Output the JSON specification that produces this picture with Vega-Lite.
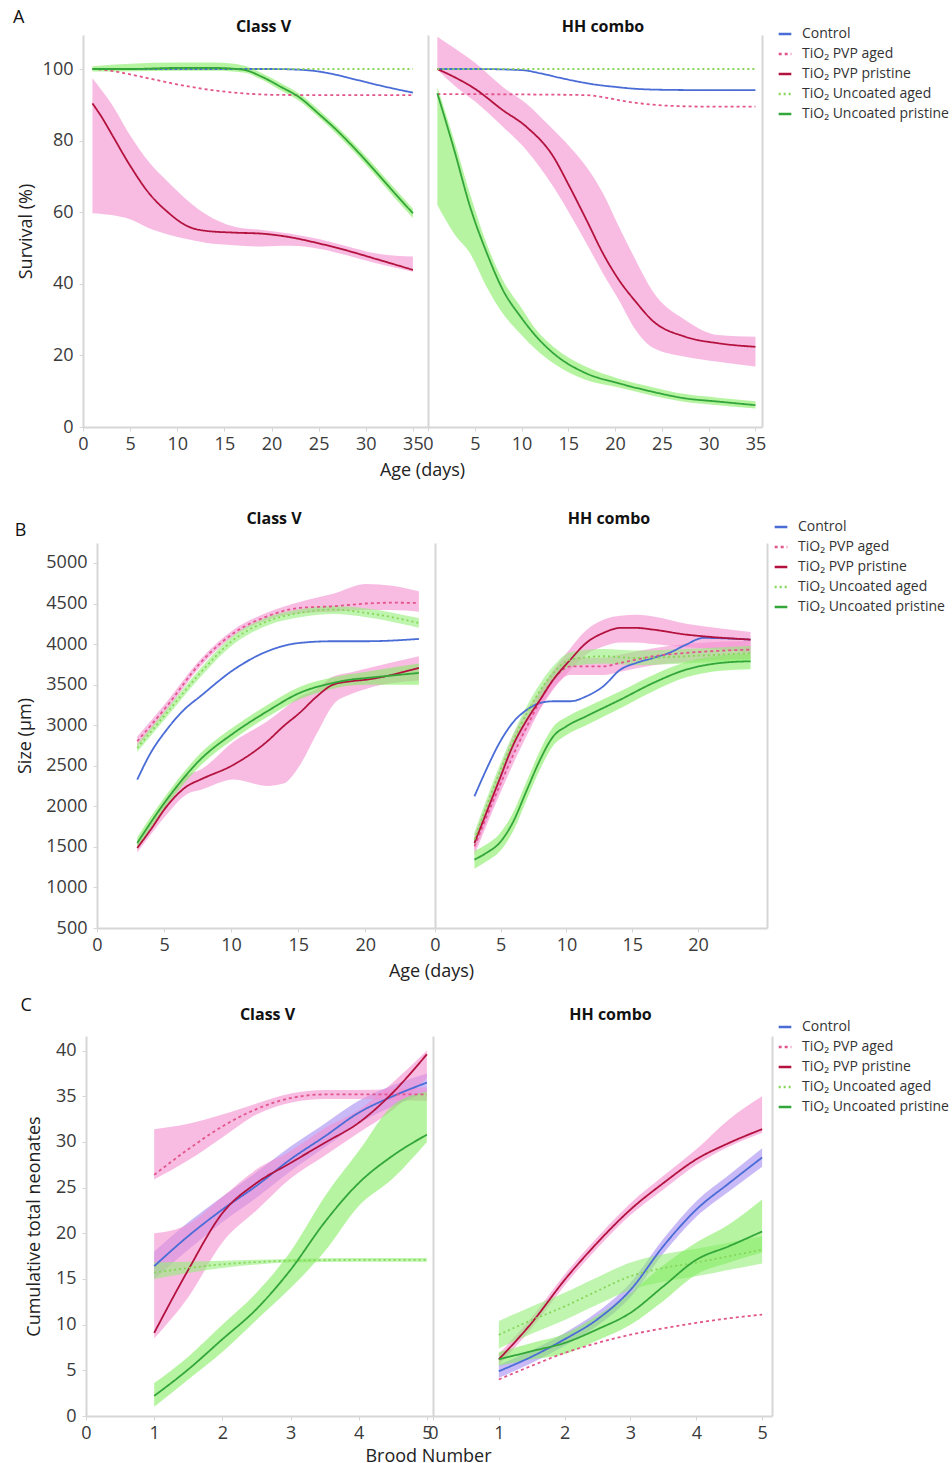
{
"$schema": "https://vega.github.io/schema/vega-lite/v6.json",
"background": "white",
"padding": {"left": 13, "top": 9, "right": 0, "bottom": 0},
"config": {
 "font": "Open Sans",
 "view": {"stroke": null},
 "axis": {"domainColor": "#d6d6d6", "domainWidth": 2, "tickColor": "#d6d6d6", "tickSize": 4, "labelFontSize": 18, "labelColor": "#3a3a3a", "titleFontSize": 18, "titleFontWeight": "normal", "titleColor": "#222222", "grid": false, "labelFlush": false, "labelOverlap": false},
 "axisX": {"labelPadding": 4, "titlePadding": 8},
 "axisY": {"labelPadding": 6},
 "title": {"fontSize": 16, "fontWeight": "bold", "color": "#111111", "frame": "group", "dx": 8},
 "legend": {"labelFontSize": 14, "labelColor": "#333333", "symbolType": "stroke", "symbolSize": 160, "symbolStrokeWidth": 2.6, "rowPadding": 5, "padding": 0, "labelLimit": 220, "labelOffset": 9}
},
"data": {"values": [
{"row":"A","panel":"Class V","series":"Control","x":1,"y":100},
{"row":"A","panel":"Class V","series":"Control","x":5,"y":100},
{"row":"A","panel":"Class V","series":"Control","x":10,"y":100},
{"row":"A","panel":"Class V","series":"Control","x":15,"y":100},
{"row":"A","panel":"Class V","series":"Control","x":20,"y":100},
{"row":"A","panel":"Class V","series":"Control","x":23,"y":99.8},
{"row":"A","panel":"Class V","series":"Control","x":25,"y":99.3},
{"row":"A","panel":"Class V","series":"Control","x":27,"y":98.3},
{"row":"A","panel":"Class V","series":"Control","x":29,"y":97},
{"row":"A","panel":"Class V","series":"Control","x":31,"y":95.7},
{"row":"A","panel":"Class V","series":"Control","x":33,"y":94.5},
{"row":"A","panel":"Class V","series":"Control","x":35,"y":93.4},
{"row":"A","panel":"Class V","series":"TiO₂ PVP aged","x":1,"y":100},
{"row":"A","panel":"Class V","series":"TiO₂ PVP aged","x":3,"y":99.5},
{"row":"A","panel":"Class V","series":"TiO₂ PVP aged","x":5,"y":98.5},
{"row":"A","panel":"Class V","series":"TiO₂ PVP aged","x":8,"y":96.8},
{"row":"A","panel":"Class V","series":"TiO₂ PVP aged","x":11,"y":95.2},
{"row":"A","panel":"Class V","series":"TiO₂ PVP aged","x":14,"y":94},
{"row":"A","panel":"Class V","series":"TiO₂ PVP aged","x":17,"y":93.2},
{"row":"A","panel":"Class V","series":"TiO₂ PVP aged","x":20,"y":92.8},
{"row":"A","panel":"Class V","series":"TiO₂ PVP aged","x":25,"y":92.7},
{"row":"A","panel":"Class V","series":"TiO₂ PVP aged","x":30,"y":92.7},
{"row":"A","panel":"Class V","series":"TiO₂ PVP aged","x":35,"y":92.7},
{"row":"A","panel":"Class V","series":"TiO₂ PVP pristine","x":1,"y":90.4,"lo":59.7,"hi":97.4},
{"row":"A","panel":"Class V","series":"TiO₂ PVP pristine","x":2,"y":86.5,"lo":59.5,"hi":94},
{"row":"A","panel":"Class V","series":"TiO₂ PVP pristine","x":3,"y":82,"lo":59.2,"hi":90.4},
{"row":"A","panel":"Class V","series":"TiO₂ PVP pristine","x":5,"y":73,"lo":58,"hi":81.5},
{"row":"A","panel":"Class V","series":"TiO₂ PVP pristine","x":7,"y":65.3,"lo":55.5,"hi":74},
{"row":"A","panel":"Class V","series":"TiO₂ PVP pristine","x":9,"y":60,"lo":53.8,"hi":68.5},
{"row":"A","panel":"Class V","series":"TiO₂ PVP pristine","x":11,"y":56.2,"lo":52.5,"hi":63.5},
{"row":"A","panel":"Class V","series":"TiO₂ PVP pristine","x":13,"y":54.8,"lo":51.5,"hi":59.5},
{"row":"A","panel":"Class V","series":"TiO₂ PVP pristine","x":16,"y":54.3,"lo":50.8,"hi":56},
{"row":"A","panel":"Class V","series":"TiO₂ PVP pristine","x":19,"y":54,"lo":50.4,"hi":55},
{"row":"A","panel":"Class V","series":"TiO₂ PVP pristine","x":22,"y":53,"lo":50.6,"hi":54},
{"row":"A","panel":"Class V","series":"TiO₂ PVP pristine","x":25,"y":51.3,"lo":49.8,"hi":52.5},
{"row":"A","panel":"Class V","series":"TiO₂ PVP pristine","x":28,"y":49.3,"lo":48,"hi":50.5},
{"row":"A","panel":"Class V","series":"TiO₂ PVP pristine","x":31,"y":47,"lo":45.8,"hi":48.5},
{"row":"A","panel":"Class V","series":"TiO₂ PVP pristine","x":35,"y":43.9,"lo":43.4,"hi":47.6},
{"row":"A","panel":"Class V","series":"TiO₂ Uncoated aged","x":1,"y":100},
{"row":"A","panel":"Class V","series":"TiO₂ Uncoated aged","x":10,"y":100},
{"row":"A","panel":"Class V","series":"TiO₂ Uncoated aged","x":20,"y":100},
{"row":"A","panel":"Class V","series":"TiO₂ Uncoated aged","x":30,"y":100},
{"row":"A","panel":"Class V","series":"TiO₂ Uncoated aged","x":35,"y":100},
{"row":"A","panel":"Class V","series":"TiO₂ Uncoated pristine","x":1,"y":100,"lo":99.3,"hi":100.8},
{"row":"A","panel":"Class V","series":"TiO₂ Uncoated pristine","x":5,"y":100,"lo":99.4,"hi":101.5},
{"row":"A","panel":"Class V","series":"TiO₂ Uncoated pristine","x":10,"y":100.3,"lo":99.5,"hi":101.8},
{"row":"A","panel":"Class V","series":"TiO₂ Uncoated pristine","x":14,"y":100.3,"lo":99.5,"hi":101.8},
{"row":"A","panel":"Class V","series":"TiO₂ Uncoated pristine","x":17,"y":99.8,"lo":99,"hi":101},
{"row":"A","panel":"Class V","series":"TiO₂ Uncoated pristine","x":19,"y":97.8,"lo":97,"hi":98.8},
{"row":"A","panel":"Class V","series":"TiO₂ Uncoated pristine","x":21,"y":95,"lo":94,"hi":96},
{"row":"A","panel":"Class V","series":"TiO₂ Uncoated pristine","x":23,"y":92,"lo":91,"hi":93},
{"row":"A","panel":"Class V","series":"TiO₂ Uncoated pristine","x":25,"y":87.5,"lo":86.5,"hi":88.6},
{"row":"A","panel":"Class V","series":"TiO₂ Uncoated pristine","x":27,"y":82.7,"lo":81.6,"hi":83.8},
{"row":"A","panel":"Class V","series":"TiO₂ Uncoated pristine","x":29,"y":77.3,"lo":76.2,"hi":78.5},
{"row":"A","panel":"Class V","series":"TiO₂ Uncoated pristine","x":31,"y":71.5,"lo":70.3,"hi":72.8},
{"row":"A","panel":"Class V","series":"TiO₂ Uncoated pristine","x":33,"y":65.5,"lo":64.2,"hi":66.8},
{"row":"A","panel":"Class V","series":"TiO₂ Uncoated pristine","x":35,"y":59.7,"lo":58.4,"hi":61},
{"row":"A","panel":"HH combo","series":"Control","x":1,"y":100},
{"row":"A","panel":"HH combo","series":"Control","x":5,"y":100},
{"row":"A","panel":"HH combo","series":"Control","x":10,"y":99.7},
{"row":"A","panel":"HH combo","series":"Control","x":12,"y":98.8},
{"row":"A","panel":"HH combo","series":"Control","x":14,"y":97.6},
{"row":"A","panel":"HH combo","series":"Control","x":16,"y":96.5},
{"row":"A","panel":"HH combo","series":"Control","x":18,"y":95.6},
{"row":"A","panel":"HH combo","series":"Control","x":20,"y":95},
{"row":"A","panel":"HH combo","series":"Control","x":22,"y":94.5},
{"row":"A","panel":"HH combo","series":"Control","x":25,"y":94.2},
{"row":"A","panel":"HH combo","series":"Control","x":30,"y":94.1},
{"row":"A","panel":"HH combo","series":"Control","x":35,"y":94.1},
{"row":"A","panel":"HH combo","series":"TiO₂ PVP aged","x":1,"y":93},
{"row":"A","panel":"HH combo","series":"TiO₂ PVP aged","x":10,"y":92.9},
{"row":"A","panel":"HH combo","series":"TiO₂ PVP aged","x":17,"y":92.7},
{"row":"A","panel":"HH combo","series":"TiO₂ PVP aged","x":19,"y":92},
{"row":"A","panel":"HH combo","series":"TiO₂ PVP aged","x":21,"y":91},
{"row":"A","panel":"HH combo","series":"TiO₂ PVP aged","x":23,"y":90.3},
{"row":"A","panel":"HH combo","series":"TiO₂ PVP aged","x":26,"y":89.7},
{"row":"A","panel":"HH combo","series":"TiO₂ PVP aged","x":30,"y":89.5},
{"row":"A","panel":"HH combo","series":"TiO₂ PVP aged","x":35,"y":89.5},
{"row":"A","panel":"HH combo","series":"TiO₂ PVP pristine","x":1,"y":100,"lo":99.7,"hi":109},
{"row":"A","panel":"HH combo","series":"TiO₂ PVP pristine","x":3,"y":97.5,"lo":95,"hi":105.5},
{"row":"A","panel":"HH combo","series":"TiO₂ PVP pristine","x":5,"y":94.5,"lo":91,"hi":101.8},
{"row":"A","panel":"HH combo","series":"TiO₂ PVP pristine","x":8,"y":88.5,"lo":83.9,"hi":95},
{"row":"A","panel":"HH combo","series":"TiO₂ PVP pristine","x":10.5,"y":83.9,"lo":77.4,"hi":90.4},
{"row":"A","panel":"HH combo","series":"TiO₂ PVP pristine","x":13.4,"y":75.5,"lo":67.1,"hi":83},
{"row":"A","panel":"HH combo","series":"TiO₂ PVP pristine","x":15,"y":67.8,"lo":60.2,"hi":78.7},
{"row":"A","panel":"HH combo","series":"TiO₂ PVP pristine","x":17,"y":57.5,"lo":51,"hi":72.4},
{"row":"A","panel":"HH combo","series":"TiO₂ PVP pristine","x":18.7,"y":48.5,"lo":42.9,"hi":65.3},
{"row":"A","panel":"HH combo","series":"TiO₂ PVP pristine","x":20.4,"y":41.1,"lo":35.5,"hi":56},
{"row":"A","panel":"HH combo","series":"TiO₂ PVP pristine","x":22.2,"y":35,"lo":27.1,"hi":46.6},
{"row":"A","panel":"HH combo","series":"TiO₂ PVP pristine","x":24,"y":29.7,"lo":22.2,"hi":38},
{"row":"A","panel":"HH combo","series":"TiO₂ PVP pristine","x":27.5,"y":25.2,"lo":19.6,"hi":29.9},
{"row":"A","panel":"HH combo","series":"TiO₂ PVP pristine","x":31,"y":23.4,"lo":18.2,"hi":25.7},
{"row":"A","panel":"HH combo","series":"TiO₂ PVP pristine","x":35,"y":22.4,"lo":16.9,"hi":25.2},
{"row":"A","panel":"HH combo","series":"TiO₂ Uncoated aged","x":1,"y":100},
{"row":"A","panel":"HH combo","series":"TiO₂ Uncoated aged","x":10,"y":100},
{"row":"A","panel":"HH combo","series":"TiO₂ Uncoated aged","x":20,"y":100},
{"row":"A","panel":"HH combo","series":"TiO₂ Uncoated aged","x":30,"y":100},
{"row":"A","panel":"HH combo","series":"TiO₂ Uncoated aged","x":35,"y":100},
{"row":"A","panel":"HH combo","series":"TiO₂ Uncoated pristine","x":1,"y":93.2,"lo":62,"hi":95},
{"row":"A","panel":"HH combo","series":"TiO₂ Uncoated pristine","x":2.8,"y":77.4,"lo":54,"hi":80},
{"row":"A","panel":"HH combo","series":"TiO₂ Uncoated pristine","x":4.5,"y":61.5,"lo":48.5,"hi":65},
{"row":"A","panel":"HH combo","series":"TiO₂ Uncoated pristine","x":6.3,"y":48.5,"lo":39,"hi":51},
{"row":"A","panel":"HH combo","series":"TiO₂ Uncoated pristine","x":8,"y":38.3,"lo":31.7,"hi":41},
{"row":"A","panel":"HH combo","series":"TiO₂ Uncoated pristine","x":9.9,"y":30.8,"lo":26,"hi":33.6},
{"row":"A","panel":"HH combo","series":"TiO₂ Uncoated pristine","x":11.6,"y":25.2,"lo":21.5,"hi":27},
{"row":"A","panel":"HH combo","series":"TiO₂ Uncoated pristine","x":13.4,"y":20.6,"lo":17.8,"hi":22.4},
{"row":"A","panel":"HH combo","series":"TiO₂ Uncoated pristine","x":16.9,"y":15,"lo":13.1,"hi":16.8},
{"row":"A","panel":"HH combo","series":"TiO₂ Uncoated pristine","x":20.4,"y":12.2,"lo":11,"hi":13.5},
{"row":"A","panel":"HH combo","series":"TiO₂ Uncoated pristine","x":23.9,"y":9.9,"lo":8.8,"hi":11.2},
{"row":"A","panel":"HH combo","series":"TiO₂ Uncoated pristine","x":27.5,"y":8,"lo":7,"hi":9.2},
{"row":"A","panel":"HH combo","series":"TiO₂ Uncoated pristine","x":31,"y":7.1,"lo":6.1,"hi":8.2},
{"row":"A","panel":"HH combo","series":"TiO₂ Uncoated pristine","x":35,"y":6.1,"lo":5.2,"hi":7.2},
{"row":"B","panel":"Class V","series":"Control","x":3,"y":2329},
{"row":"B","panel":"Class V","series":"Control","x":4,"y":2658},
{"row":"B","panel":"Class V","series":"Control","x":5.2,"y":2945},
{"row":"B","panel":"Class V","series":"Control","x":6.5,"y":3192},
{"row":"B","panel":"Class V","series":"Control","x":7.7,"y":3356},
{"row":"B","panel":"Class V","series":"Control","x":10.2,"y":3685},
{"row":"B","panel":"Class V","series":"Control","x":12.7,"y":3911},
{"row":"B","panel":"Class V","series":"Control","x":15.1,"y":4014},
{"row":"B","panel":"Class V","series":"Control","x":17.6,"y":4035},
{"row":"B","panel":"Class V","series":"Control","x":20.1,"y":4035},
{"row":"B","panel":"Class V","series":"Control","x":24,"y":4063},
{"row":"B","panel":"Class V","series":"TiO₂ PVP aged","x":3,"y":2802,"lo":2740,"hi":2860},
{"row":"B","panel":"Class V","series":"TiO₂ PVP aged","x":5.2,"y":3233,"lo":3180,"hi":3290},
{"row":"B","panel":"Class V","series":"TiO₂ PVP aged","x":7.7,"y":3767,"lo":3720,"hi":3810},
{"row":"B","panel":"Class V","series":"TiO₂ PVP aged","x":10.2,"y":4137,"lo":4100,"hi":4180},
{"row":"B","panel":"Class V","series":"TiO₂ PVP aged","x":12.7,"y":4343,"lo":4300,"hi":4390},
{"row":"B","panel":"Class V","series":"TiO₂ PVP aged","x":15.1,"y":4446,"lo":4380,"hi":4520},
{"row":"B","panel":"Class V","series":"TiO₂ PVP aged","x":17.6,"y":4466,"lo":4400,"hi":4620},
{"row":"B","panel":"Class V","series":"TiO₂ PVP aged","x":20.1,"y":4500,"lo":4420,"hi":4740},
{"row":"B","panel":"Class V","series":"TiO₂ PVP aged","x":22,"y":4510,"lo":4420,"hi":4720},
{"row":"B","panel":"Class V","series":"TiO₂ PVP aged","x":24,"y":4507,"lo":4400,"hi":4650},
{"row":"B","panel":"Class V","series":"TiO₂ PVP pristine","x":3,"y":1486,"lo":1430,"hi":1560},
{"row":"B","panel":"Class V","series":"TiO₂ PVP pristine","x":4,"y":1712,"lo":1650,"hi":1780},
{"row":"B","panel":"Class V","series":"TiO₂ PVP pristine","x":5.2,"y":2000,"lo":1900,"hi":2100},
{"row":"B","panel":"Class V","series":"TiO₂ PVP pristine","x":6.7,"y":2247,"lo":2150,"hi":2380},
{"row":"B","panel":"Class V","series":"TiO₂ PVP pristine","x":7.7,"y":2329,"lo":2200,"hi":2450},
{"row":"B","panel":"Class V","series":"TiO₂ PVP pristine","x":10.2,"y":2514,"lo":2330,"hi":2800},
{"row":"B","panel":"Class V","series":"TiO₂ PVP pristine","x":12.7,"y":2802,"lo":2250,"hi":3050},
{"row":"B","panel":"Class V","series":"TiO₂ PVP pristine","x":13.9,"y":2987,"lo":2280,"hi":3200},
{"row":"B","panel":"Class V","series":"TiO₂ PVP pristine","x":15.1,"y":3151,"lo":2500,"hi":3350},
{"row":"B","panel":"Class V","series":"TiO₂ PVP pristine","x":16.4,"y":3356,"lo":2900,"hi":3450},
{"row":"B","panel":"Class V","series":"TiO₂ PVP pristine","x":17.6,"y":3500,"lo":3250,"hi":3600},
{"row":"B","panel":"Class V","series":"TiO₂ PVP pristine","x":18.9,"y":3541,"lo":3380,"hi":3650},
{"row":"B","panel":"Class V","series":"TiO₂ PVP pristine","x":20.1,"y":3562,"lo":3450,"hi":3700},
{"row":"B","panel":"Class V","series":"TiO₂ PVP pristine","x":24,"y":3706,"lo":3550,"hi":3850},
{"row":"B","panel":"Class V","series":"TiO₂ Uncoated aged","x":3,"y":2719,"lo":2670,"hi":2770},
{"row":"B","panel":"Class V","series":"TiO₂ Uncoated aged","x":5.2,"y":3151,"lo":3100,"hi":3200},
{"row":"B","panel":"Class V","series":"TiO₂ Uncoated aged","x":7.7,"y":3644,"lo":3590,"hi":3700},
{"row":"B","panel":"Class V","series":"TiO₂ Uncoated aged","x":10.2,"y":4055,"lo":4000,"hi":4110},
{"row":"B","panel":"Class V","series":"TiO₂ Uncoated aged","x":12.7,"y":4281,"lo":4230,"hi":4330},
{"row":"B","panel":"Class V","series":"TiO₂ Uncoated aged","x":15.1,"y":4384,"lo":4330,"hi":4430},
{"row":"B","panel":"Class V","series":"TiO₂ Uncoated aged","x":17.6,"y":4425,"lo":4370,"hi":4470},
{"row":"B","panel":"Class V","series":"TiO₂ Uncoated aged","x":20.1,"y":4384,"lo":4330,"hi":4440},
{"row":"B","panel":"Class V","series":"TiO₂ Uncoated aged","x":24,"y":4261,"lo":4200,"hi":4320},
{"row":"B","panel":"Class V","series":"TiO₂ Uncoated pristine","x":3,"y":1548,"lo":1480,"hi":1620},
{"row":"B","panel":"Class V","series":"TiO₂ Uncoated pristine","x":5.2,"y":2082,"lo":2010,"hi":2150},
{"row":"B","panel":"Class V","series":"TiO₂ Uncoated pristine","x":7.7,"y":2576,"lo":2500,"hi":2650},
{"row":"B","panel":"Class V","series":"TiO₂ Uncoated pristine","x":10.2,"y":2904,"lo":2830,"hi":2980},
{"row":"B","panel":"Class V","series":"TiO₂ Uncoated pristine","x":12.7,"y":3172,"lo":3100,"hi":3250},
{"row":"B","panel":"Class V","series":"TiO₂ Uncoated pristine","x":15.1,"y":3397,"lo":3320,"hi":3470},
{"row":"B","panel":"Class V","series":"TiO₂ Uncoated pristine","x":17.6,"y":3521,"lo":3450,"hi":3590},
{"row":"B","panel":"Class V","series":"TiO₂ Uncoated pristine","x":18.9,"y":3562,"lo":3490,"hi":3630},
{"row":"B","panel":"Class V","series":"TiO₂ Uncoated pristine","x":20.1,"y":3582,"lo":3500,"hi":3660},
{"row":"B","panel":"Class V","series":"TiO₂ Uncoated pristine","x":24,"y":3644,"lo":3500,"hi":3760},
{"row":"B","panel":"HH combo","series":"Control","x":3,"y":2123},
{"row":"B","panel":"HH combo","series":"Control","x":3.9,"y":2452},
{"row":"B","panel":"HH combo","series":"Control","x":4.9,"y":2781},
{"row":"B","panel":"HH combo","series":"Control","x":5.9,"y":3028},
{"row":"B","panel":"HH combo","series":"Control","x":7,"y":3192},
{"row":"B","panel":"HH combo","series":"Control","x":8,"y":3274},
{"row":"B","panel":"HH combo","series":"Control","x":9,"y":3295},
{"row":"B","panel":"HH combo","series":"Control","x":10.3,"y":3295},
{"row":"B","panel":"HH combo","series":"Control","x":11.5,"y":3356},
{"row":"B","panel":"HH combo","series":"Control","x":12.8,"y":3480},
{"row":"B","panel":"HH combo","series":"Control","x":14.1,"y":3685},
{"row":"B","panel":"HH combo","series":"Control","x":15.3,"y":3767},
{"row":"B","panel":"HH combo","series":"Control","x":16.6,"y":3829},
{"row":"B","panel":"HH combo","series":"Control","x":17.8,"y":3891},
{"row":"B","panel":"HH combo","series":"Control","x":19.1,"y":3993},
{"row":"B","panel":"HH combo","series":"Control","x":20.4,"y":4076},
{"row":"B","panel":"HH combo","series":"Control","x":24,"y":4055},
{"row":"B","panel":"HH combo","series":"TiO₂ PVP aged","x":3,"y":1507,"lo":1400,"hi":1610},
{"row":"B","panel":"HH combo","series":"TiO₂ PVP aged","x":4.9,"y":2247,"lo":2140,"hi":2350},
{"row":"B","panel":"HH combo","series":"TiO₂ PVP aged","x":7,"y":2987,"lo":2880,"hi":3090},
{"row":"B","panel":"HH combo","series":"TiO₂ PVP aged","x":9,"y":3562,"lo":3460,"hi":3660},
{"row":"B","panel":"HH combo","series":"TiO₂ PVP aged","x":10.3,"y":3726,"lo":3620,"hi":3830},
{"row":"B","panel":"HH combo","series":"TiO₂ PVP aged","x":11.5,"y":3726,"lo":3620,"hi":3830},
{"row":"B","panel":"HH combo","series":"TiO₂ PVP aged","x":12.8,"y":3726,"lo":3620,"hi":3830},
{"row":"B","panel":"HH combo","series":"TiO₂ PVP aged","x":14.1,"y":3767,"lo":3660,"hi":3870},
{"row":"B","panel":"HH combo","series":"TiO₂ PVP aged","x":16.6,"y":3850,"lo":3740,"hi":3950},
{"row":"B","panel":"HH combo","series":"TiO₂ PVP aged","x":19.1,"y":3891,"lo":3780,"hi":4000},
{"row":"B","panel":"HH combo","series":"TiO₂ PVP aged","x":24,"y":3932,"lo":3820,"hi":4040},
{"row":"B","panel":"HH combo","series":"TiO₂ PVP pristine","x":3,"y":1548,"lo":1450,"hi":1650},
{"row":"B","panel":"HH combo","series":"TiO₂ PVP pristine","x":3.9,"y":1918,"lo":1800,"hi":2030},
{"row":"B","panel":"HH combo","series":"TiO₂ PVP pristine","x":4.9,"y":2329,"lo":2200,"hi":2450},
{"row":"B","panel":"HH combo","series":"TiO₂ PVP pristine","x":5.9,"y":2740,"lo":2620,"hi":2860},
{"row":"B","panel":"HH combo","series":"TiO₂ PVP pristine","x":7,"y":3069,"lo":2950,"hi":3190},
{"row":"B","panel":"HH combo","series":"TiO₂ PVP pristine","x":8,"y":3315,"lo":3200,"hi":3430},
{"row":"B","panel":"HH combo","series":"TiO₂ PVP pristine","x":9,"y":3562,"lo":3440,"hi":3680},
{"row":"B","panel":"HH combo","series":"TiO₂ PVP pristine","x":10.3,"y":3808,"lo":3680,"hi":3950},
{"row":"B","panel":"HH combo","series":"TiO₂ PVP pristine","x":11.5,"y":4014,"lo":3870,"hi":4170},
{"row":"B","panel":"HH combo","series":"TiO₂ PVP pristine","x":12.8,"y":4137,"lo":3970,"hi":4300},
{"row":"B","panel":"HH combo","series":"TiO₂ PVP pristine","x":14.1,"y":4199,"lo":4020,"hi":4350},
{"row":"B","panel":"HH combo","series":"TiO₂ PVP pristine","x":15.3,"y":4199,"lo":4020,"hi":4360},
{"row":"B","panel":"HH combo","series":"TiO₂ PVP pristine","x":16.6,"y":4178,"lo":4000,"hi":4340},
{"row":"B","panel":"HH combo","series":"TiO₂ PVP pristine","x":19.1,"y":4117,"lo":3960,"hi":4250},
{"row":"B","panel":"HH combo","series":"TiO₂ PVP pristine","x":20.4,"y":4096,"lo":3950,"hi":4220},
{"row":"B","panel":"HH combo","series":"TiO₂ PVP pristine","x":24,"y":4055,"lo":3900,"hi":4150},
{"row":"B","panel":"HH combo","series":"TiO₂ Uncoated aged","x":3,"y":1589,"lo":1500,"hi":1680},
{"row":"B","panel":"HH combo","series":"TiO₂ Uncoated aged","x":4.9,"y":2411,"lo":2320,"hi":2500},
{"row":"B","panel":"HH combo","series":"TiO₂ Uncoated aged","x":7,"y":3151,"lo":3060,"hi":3240},
{"row":"B","panel":"HH combo","series":"TiO₂ Uncoated aged","x":9,"y":3644,"lo":3550,"hi":3730},
{"row":"B","panel":"HH combo","series":"TiO₂ Uncoated aged","x":10.3,"y":3808,"lo":3720,"hi":3900},
{"row":"B","panel":"HH combo","series":"TiO₂ Uncoated aged","x":12.8,"y":3850,"lo":3760,"hi":3940},
{"row":"B","panel":"HH combo","series":"TiO₂ Uncoated aged","x":15.3,"y":3829,"lo":3740,"hi":3920},
{"row":"B","panel":"HH combo","series":"TiO₂ Uncoated aged","x":19.1,"y":3850,"lo":3760,"hi":3940},
{"row":"B","panel":"HH combo","series":"TiO₂ Uncoated aged","x":24,"y":3891,"lo":3800,"hi":3980},
{"row":"B","panel":"HH combo","series":"TiO₂ Uncoated pristine","x":3,"y":1343,"lo":1230,"hi":1450},
{"row":"B","panel":"HH combo","series":"TiO₂ Uncoated pristine","x":3.9,"y":1425,"lo":1320,"hi":1530},
{"row":"B","panel":"HH combo","series":"TiO₂ Uncoated pristine","x":4.9,"y":1548,"lo":1440,"hi":1660},
{"row":"B","panel":"HH combo","series":"TiO₂ Uncoated pristine","x":5.9,"y":1795,"lo":1680,"hi":1910},
{"row":"B","panel":"HH combo","series":"TiO₂ Uncoated pristine","x":7,"y":2206,"lo":2090,"hi":2320},
{"row":"B","panel":"HH combo","series":"TiO₂ Uncoated pristine","x":8,"y":2576,"lo":2460,"hi":2690},
{"row":"B","panel":"HH combo","series":"TiO₂ Uncoated pristine","x":9,"y":2863,"lo":2750,"hi":2980},
{"row":"B","panel":"HH combo","series":"TiO₂ Uncoated pristine","x":10,"y":2987,"lo":2880,"hi":3100},
{"row":"B","panel":"HH combo","series":"TiO₂ Uncoated pristine","x":11.5,"y":3110,"lo":3000,"hi":3220},
{"row":"B","panel":"HH combo","series":"TiO₂ Uncoated pristine","x":14.1,"y":3315,"lo":3210,"hi":3420},
{"row":"B","panel":"HH combo","series":"TiO₂ Uncoated pristine","x":16.6,"y":3521,"lo":3420,"hi":3620},
{"row":"B","panel":"HH combo","series":"TiO₂ Uncoated pristine","x":19.1,"y":3685,"lo":3590,"hi":3780},
{"row":"B","panel":"HH combo","series":"TiO₂ Uncoated pristine","x":21.7,"y":3767,"lo":3670,"hi":3860},
{"row":"B","panel":"HH combo","series":"TiO₂ Uncoated pristine","x":24,"y":3788,"lo":3690,"hi":3880},
{"row":"C","panel":"Class V","series":"Control","x":1,"y":16.4,"lo":15,"hi":18},
{"row":"C","panel":"Class V","series":"Control","x":1.5,"y":19.7,"lo":18.2,"hi":21.2},
{"row":"C","panel":"Class V","series":"Control","x":2,"y":22.6,"lo":21.2,"hi":24},
{"row":"C","panel":"Class V","series":"Control","x":2.5,"y":25.2,"lo":23.9,"hi":26.7},
{"row":"C","panel":"Class V","series":"Control","x":3,"y":28.1,"lo":26.8,"hi":29.5},
{"row":"C","panel":"Class V","series":"Control","x":3.5,"y":30.6,"lo":29.4,"hi":32},
{"row":"C","panel":"Class V","series":"Control","x":4,"y":33.2,"lo":32,"hi":34.5},
{"row":"C","panel":"Class V","series":"Control","x":4.5,"y":35,"lo":33.9,"hi":36.2},
{"row":"C","panel":"Class V","series":"Control","x":5,"y":36.5,"lo":35.5,"hi":37.5},
{"row":"C","panel":"Class V","series":"TiO₂ PVP aged","x":1,"y":26.4,"lo":25.9,"hi":31.4},
{"row":"C","panel":"Class V","series":"TiO₂ PVP aged","x":1.5,"y":29.2,"lo":28,"hi":32},
{"row":"C","panel":"Class V","series":"TiO₂ PVP aged","x":2,"y":31.7,"lo":30.5,"hi":33},
{"row":"C","panel":"Class V","series":"TiO₂ PVP aged","x":2.5,"y":33.6,"lo":33,"hi":34.2},
{"row":"C","panel":"Class V","series":"TiO₂ PVP aged","x":3,"y":34.8,"lo":34.3,"hi":35.3},
{"row":"C","panel":"Class V","series":"TiO₂ PVP aged","x":3.5,"y":35.2,"lo":34.7,"hi":35.7},
{"row":"C","panel":"Class V","series":"TiO₂ PVP aged","x":4,"y":35.2,"lo":34.7,"hi":35.7},
{"row":"C","panel":"Class V","series":"TiO₂ PVP aged","x":4.5,"y":35.2,"lo":34.6,"hi":35.8},
{"row":"C","panel":"Class V","series":"TiO₂ PVP aged","x":5,"y":35.2,"lo":34.5,"hi":36},
{"row":"C","panel":"Class V","series":"TiO₂ PVP pristine","x":1,"y":9.1,"lo":8.5,"hi":20},
{"row":"C","panel":"Class V","series":"TiO₂ PVP pristine","x":1.5,"y":16,"lo":13,"hi":21},
{"row":"C","panel":"Class V","series":"TiO₂ PVP pristine","x":2,"y":22.2,"lo":19,"hi":24},
{"row":"C","panel":"Class V","series":"TiO₂ PVP pristine","x":2.5,"y":25.5,"lo":22.5,"hi":27},
{"row":"C","panel":"Class V","series":"TiO₂ PVP pristine","x":3,"y":27.7,"lo":26,"hi":29},
{"row":"C","panel":"Class V","series":"TiO₂ PVP pristine","x":3.5,"y":29.9,"lo":28.5,"hi":31.5},
{"row":"C","panel":"Class V","series":"TiO₂ PVP pristine","x":4,"y":32.1,"lo":31,"hi":33.5},
{"row":"C","panel":"Class V","series":"TiO₂ PVP pristine","x":4.5,"y":35.4,"lo":33.5,"hi":36.5},
{"row":"C","panel":"Class V","series":"TiO₂ PVP pristine","x":5,"y":39.6,"lo":37,"hi":40},
{"row":"C","panel":"Class V","series":"TiO₂ Uncoated aged","x":1,"y":15.7,"lo":15,"hi":16.8},
{"row":"C","panel":"Class V","series":"TiO₂ Uncoated aged","x":2,"y":16.6,"lo":16.2,"hi":17},
{"row":"C","panel":"Class V","series":"TiO₂ Uncoated aged","x":3,"y":17,"lo":16.8,"hi":17.2},
{"row":"C","panel":"Class V","series":"TiO₂ Uncoated aged","x":4,"y":17.1,"lo":16.9,"hi":17.3},
{"row":"C","panel":"Class V","series":"TiO₂ Uncoated aged","x":5,"y":17.1,"lo":16.9,"hi":17.3},
{"row":"C","panel":"Class V","series":"TiO₂ Uncoated pristine","x":1,"y":2.2,"lo":1,"hi":3.6},
{"row":"C","panel":"Class V","series":"TiO₂ Uncoated pristine","x":1.5,"y":5.1,"lo":4,"hi":6.5},
{"row":"C","panel":"Class V","series":"TiO₂ Uncoated pristine","x":2,"y":8.4,"lo":7,"hi":10},
{"row":"C","panel":"Class V","series":"TiO₂ Uncoated pristine","x":2.5,"y":11.7,"lo":10.5,"hi":13.5},
{"row":"C","panel":"Class V","series":"TiO₂ Uncoated pristine","x":3,"y":16,"lo":14,"hi":18},
{"row":"C","panel":"Class V","series":"TiO₂ Uncoated pristine","x":3.5,"y":21.2,"lo":18,"hi":24},
{"row":"C","panel":"Class V","series":"TiO₂ Uncoated pristine","x":4,"y":25.5,"lo":23,"hi":29},
{"row":"C","panel":"Class V","series":"TiO₂ Uncoated pristine","x":4.5,"y":28.5,"lo":26,"hi":34},
{"row":"C","panel":"Class V","series":"TiO₂ Uncoated pristine","x":5,"y":30.8,"lo":30,"hi":35.5},
{"row":"C","panel":"HH combo","series":"Control","x":1,"y":4.9,"lo":4.2,"hi":5.6},
{"row":"C","panel":"HH combo","series":"Control","x":1.5,"y":6.5,"lo":5.8,"hi":7.2},
{"row":"C","panel":"HH combo","series":"Control","x":2,"y":8.4,"lo":7.7,"hi":9.1},
{"row":"C","panel":"HH combo","series":"Control","x":2.5,"y":10.6,"lo":9.9,"hi":11.4},
{"row":"C","panel":"HH combo","series":"Control","x":3,"y":13.8,"lo":13,"hi":14.6},
{"row":"C","panel":"HH combo","series":"Control","x":3.5,"y":18.6,"lo":17.8,"hi":19.4},
{"row":"C","panel":"HH combo","series":"Control","x":4,"y":22.6,"lo":21.8,"hi":23.5},
{"row":"C","panel":"HH combo","series":"Control","x":4.5,"y":25.5,"lo":24.6,"hi":26.4},
{"row":"C","panel":"HH combo","series":"Control","x":5,"y":28.3,"lo":27.3,"hi":29.3},
{"row":"C","panel":"HH combo","series":"TiO₂ PVP aged","x":1,"y":4},
{"row":"C","panel":"HH combo","series":"TiO₂ PVP aged","x":1.5,"y":5.5},
{"row":"C","panel":"HH combo","series":"TiO₂ PVP aged","x":2,"y":6.9},
{"row":"C","panel":"HH combo","series":"TiO₂ PVP aged","x":2.5,"y":8},
{"row":"C","panel":"HH combo","series":"TiO₂ PVP aged","x":3,"y":8.9},
{"row":"C","panel":"HH combo","series":"TiO₂ PVP aged","x":3.5,"y":9.6},
{"row":"C","panel":"HH combo","series":"TiO₂ PVP aged","x":4,"y":10.2},
{"row":"C","panel":"HH combo","series":"TiO₂ PVP aged","x":4.5,"y":10.7},
{"row":"C","panel":"HH combo","series":"TiO₂ PVP aged","x":5,"y":11.1},
{"row":"C","panel":"HH combo","series":"TiO₂ PVP pristine","x":1,"y":6.2,"lo":5.6,"hi":6.8},
{"row":"C","panel":"HH combo","series":"TiO₂ PVP pristine","x":1.5,"y":10.2,"lo":9.6,"hi":10.8},
{"row":"C","panel":"HH combo","series":"TiO₂ PVP pristine","x":2,"y":14.9,"lo":14.3,"hi":15.5},
{"row":"C","panel":"HH combo","series":"TiO₂ PVP pristine","x":2.5,"y":19,"lo":18.4,"hi":19.6},
{"row":"C","panel":"HH combo","series":"TiO₂ PVP pristine","x":3,"y":22.6,"lo":22,"hi":23.3},
{"row":"C","panel":"HH combo","series":"TiO₂ PVP pristine","x":3.5,"y":25.5,"lo":24.8,"hi":26.3},
{"row":"C","panel":"HH combo","series":"TiO₂ PVP pristine","x":4,"y":28.1,"lo":27.5,"hi":29.2},
{"row":"C","panel":"HH combo","series":"TiO₂ PVP pristine","x":4.5,"y":29.9,"lo":29.5,"hi":32.5},
{"row":"C","panel":"HH combo","series":"TiO₂ PVP pristine","x":5,"y":31.4,"lo":31,"hi":35},
{"row":"C","panel":"HH combo","series":"TiO₂ Uncoated aged","x":1,"y":8.9,"lo":7.4,"hi":10.4},
{"row":"C","panel":"HH combo","series":"TiO₂ Uncoated aged","x":1.5,"y":10.5,"lo":9,"hi":12},
{"row":"C","panel":"HH combo","series":"TiO₂ Uncoated aged","x":2,"y":12,"lo":10.5,"hi":13.5},
{"row":"C","panel":"HH combo","series":"TiO₂ Uncoated aged","x":2.5,"y":13.7,"lo":12.2,"hi":15.2},
{"row":"C","panel":"HH combo","series":"TiO₂ Uncoated aged","x":3,"y":15.3,"lo":13.8,"hi":16.8},
{"row":"C","panel":"HH combo","series":"TiO₂ Uncoated aged","x":3.5,"y":16.2,"lo":14.7,"hi":17.7},
{"row":"C","panel":"HH combo","series":"TiO₂ Uncoated aged","x":4,"y":16.8,"lo":15.3,"hi":18.3},
{"row":"C","panel":"HH combo","series":"TiO₂ Uncoated aged","x":4.5,"y":17.5,"lo":16,"hi":19},
{"row":"C","panel":"HH combo","series":"TiO₂ Uncoated aged","x":5,"y":18.2,"lo":16.7,"hi":19.7},
{"row":"C","panel":"HH combo","series":"TiO₂ Uncoated pristine","x":1,"y":6.2,"lo":5.5,"hi":7},
{"row":"C","panel":"HH combo","series":"TiO₂ Uncoated pristine","x":1.5,"y":7.1,"lo":6.2,"hi":8},
{"row":"C","panel":"HH combo","series":"TiO₂ Uncoated pristine","x":2,"y":8,"lo":6.8,"hi":9},
{"row":"C","panel":"HH combo","series":"TiO₂ Uncoated pristine","x":2.5,"y":9.5,"lo":8.3,"hi":11},
{"row":"C","panel":"HH combo","series":"TiO₂ Uncoated pristine","x":3,"y":11.3,"lo":10,"hi":13.5},
{"row":"C","panel":"HH combo","series":"TiO₂ Uncoated pristine","x":3.5,"y":14.2,"lo":12.6,"hi":16.5},
{"row":"C","panel":"HH combo","series":"TiO₂ Uncoated pristine","x":4,"y":17.1,"lo":15.5,"hi":19},
{"row":"C","panel":"HH combo","series":"TiO₂ Uncoated pristine","x":4.5,"y":18.6,"lo":16.8,"hi":21},
{"row":"C","panel":"HH combo","series":"TiO₂ Uncoated pristine","x":5,"y":20.2,"lo":17.9,"hi":23.7}
]},
"concat": [
 {
  "title": {"text": "A", "anchor": "start", "frame": "bounds", "offset": -8, "fontSize": 18, "fontWeight": "normal", "dx": -4},
  "spacing": 0,
  "bounds": "flush",
  "resolve": {"scale": {"color": "independent", "strokeDash": "independent", "fill": "independent"}},
  "hconcat": [
   {
    "width": 345, "height": 392,
    "title": {"text": "Class V", "offset": 0},
    "transform": [{"filter": "datum.row == 'A' && datum.panel == 'Class V'"}],
    "encoding": {"x": {"field": "x", "type": "quantitative", "scale": {"domain": [0, 36.6], "nice": false, "zero": false}, "axis": {"values": [0,5,10,15,20,25,30,35], "title": "Age (days)", "titleX": 339}}},
    "layer": [
     {"transform": [{"filter": "isValid(datum.lo)"}, {"calculate": "datum.series + ' band'", "as": "band"}],
      "mark": {"type": "area", "interpolate": "monotone", "opacity": 0.6},
      "encoding": {
       "y": {"field": "lo", "type": "quantitative", "scale": {"domain": [0, 109.5], "nice": false}, "axis": {"values": [0,20,40,60,80,100], "title": "Survival (%)", "titlePadding": 7}},
       "y2": {"field": "hi"},
       "fill": {"field": "band", "type": "nominal", "scale": {"domain": ["Control band","TiO₂ PVP aged band","TiO₂ PVP pristine band","TiO₂ Uncoated aged band","TiO₂ Uncoated pristine band"], "range": ["#a58af2","#f48fd0","#f48fd0","#95ef78","#86ec62"]}, "legend": null}}},
     {"mark": {"type": "line", "interpolate": "monotone", "strokeWidth": 1.8},
      "encoding": {
       "y": {"field": "y", "type": "quantitative", "scale": {"domain": [0, 109.5], "nice": false}, "axis": {"values": [0,20,40,60,80,100], "title": "Survival (%)", "titlePadding": 7}},
       "color": {"field": "series", "type": "nominal", "scale": {"domain": ["Control","TiO₂ PVP aged","TiO₂ PVP pristine","TiO₂ Uncoated aged","TiO₂ Uncoated pristine"], "range": ["#4a6cd6","#e2558a","#b3123e","#86d65a","#33a63a"]}, "legend": null},
       "strokeDash": {"field": "series", "type": "nominal", "scale": {"domain": ["Control","TiO₂ PVP aged","TiO₂ PVP pristine","TiO₂ Uncoated aged","TiO₂ Uncoated pristine"], "range": [[1,0],[3,3],[1,0],[2,3],[1,0]]}, "legend": null}}}
    ]
   },
   {
    "width": 334, "height": 392,
    "title": {"text": "HH combo", "offset": 0},
    "transform": [{"filter": "datum.row == 'A' && datum.panel == 'HH combo'"}],
    "encoding": {"x": {"field": "x", "type": "quantitative", "scale": {"domain": [0, 35.7], "nice": false, "zero": false}, "axis": {"values": [0,5,10,15,20,25,30,35], "title": null}}},
    "resolve": {"axis": {"y": "independent"}},
    "layer": [
     {"transform": [{"filter": "isValid(datum.lo)"}, {"calculate": "datum.series + ' band'", "as": "band"}],
      "mark": {"type": "area", "interpolate": "monotone", "opacity": 0.6},
      "encoding": {
       "y": {"field": "lo", "type": "quantitative", "scale": {"domain": [0, 109.5], "nice": false}, "axis": {"orient": "right", "labels": false, "ticks": false, "title": null}},
       "y2": {"field": "hi"},
       "fill": {"field": "band", "type": "nominal", "scale": {"domain": ["Control band","TiO₂ PVP aged band","TiO₂ PVP pristine band","TiO₂ Uncoated aged band","TiO₂ Uncoated pristine band"], "range": ["#a58af2","#f48fd0","#f48fd0","#95ef78","#86ec62"]}, "legend": null}}},
     {"mark": {"type": "line", "interpolate": "monotone", "strokeWidth": 1.8},
      "encoding": {
       "y": {"field": "y", "type": "quantitative", "scale": {"domain": [0, 109.5], "nice": false}, "axis": {"labels": false, "ticks": false, "title": null}},
       "color": {"field": "series", "type": "nominal", "scale": {"domain": ["Control","TiO₂ PVP aged","TiO₂ PVP pristine","TiO₂ Uncoated aged","TiO₂ Uncoated pristine"], "range": ["#4a6cd6","#e2558a","#b3123e","#86d65a","#33a63a"]}, "legend": null},
       "strokeDash": {"field": "series", "type": "nominal", "scale": {"domain": ["Control","TiO₂ PVP aged","TiO₂ PVP pristine","TiO₂ Uncoated aged","TiO₂ Uncoated pristine"], "range": [[1,0],[3,3],[1,0],[2,3],[1,0]]}, "legend": null}}}
    ]
   },
   {
    "width": 1, "height": 392,
    "data": {"values": []},
    "mark": {"type": "line"},
    "encoding": {
     "color": {"field": "series", "type": "nominal", "scale": {"domain": ["Control","TiO₂ PVP aged","TiO₂ PVP pristine","TiO₂ Uncoated aged","TiO₂ Uncoated pristine"], "range": ["#4a6cd6","#e2558a","#b3123e","#86d65a","#33a63a"]}, "legend": {"title": null, "orient": "none", "legendX": 15, "legendY": -9}},
     "strokeDash": {"field": "series", "type": "nominal", "scale": {"domain": ["Control","TiO₂ PVP aged","TiO₂ PVP pristine","TiO₂ Uncoated aged","TiO₂ Uncoated pristine"], "range": [[1,0],[3,3],[1,0],[2,3],[1,0]]}, "legend": {"title": null, "orient": "none", "legendX": 15, "legendY": -9}}}
   }
  ]
 },
 {
  "columns": 1,
  "align": "none",
  "spacing": 17,
  "resolve": {"scale": {"color": "independent", "strokeDash": "independent", "fill": "independent"}},
  "concat": [
   {
    "title": {"text": "B", "anchor": "start", "frame": "bounds", "offset": -29, "fontSize": 18, "fontWeight": "normal", "dx": -2},
    "spacing": 0,
    "bounds": "flush",
    "resolve": {"scale": {"color": "independent", "strokeDash": "independent", "fill": "independent"}},
    "hconcat": [
     {"width": 14, "height": 10, "data": {"values": []}, "mark": {"type": "point"}},
     {
      "width": 338, "height": 385,
      "title": {"text": "Class V", "offset": 16},
      "transform": [{"filter": "datum.row == 'B' && datum.panel == 'Class V'"}],
      "encoding": {"x": {"field": "x", "type": "quantitative", "scale": {"domain": [0, 25.2], "nice": false, "zero": false}, "axis": {"values": [0,5,10,15,20], "title": "Age (days)", "titleX": 334}}},
      "layer": [
       {"transform": [{"filter": "isValid(datum.lo)"}, {"calculate": "datum.series + ' band'", "as": "band"}],
        "mark": {"type": "area", "interpolate": "monotone", "opacity": 0.6},
        "encoding": {
         "y": {"field": "lo", "type": "quantitative", "scale": {"domain": [500, 5246], "nice": false, "zero": false}, "axis": {"values": [500,1000,1500,2000,2500,3000,3500,4000,4500,5000], "format": "d", "title": "Size (µm)", "titlePadding": 11}},
         "y2": {"field": "hi"},
         "fill": {"field": "band", "type": "nominal", "scale": {"domain": ["Control band","TiO₂ PVP aged band","TiO₂ PVP pristine band","TiO₂ Uncoated aged band","TiO₂ Uncoated pristine band"], "range": ["#a58af2","#f48fd0","#f48fd0","#95ef78","#86ec62"]}, "legend": null}}},
       {"mark": {"type": "line", "interpolate": "monotone", "strokeWidth": 1.8},
        "encoding": {
         "y": {"field": "y", "type": "quantitative", "scale": {"domain": [500, 5246], "nice": false, "zero": false}, "axis": {"values": [500,1000,1500,2000,2500,3000,3500,4000,4500,5000], "format": "d", "title": "Size (µm)", "titlePadding": 11}},
         "color": {"field": "series", "type": "nominal", "scale": {"domain": ["Control","TiO₂ PVP aged","TiO₂ PVP pristine","TiO₂ Uncoated aged","TiO₂ Uncoated pristine"], "range": ["#4a6cd6","#e2558a","#b3123e","#86d65a","#33a63a"]}, "legend": null},
         "strokeDash": {"field": "series", "type": "nominal", "scale": {"domain": ["Control","TiO₂ PVP aged","TiO₂ PVP pristine","TiO₂ Uncoated aged","TiO₂ Uncoated pristine"], "range": [[1,0],[3,3],[1,0],[2,3],[1,0]]}, "legend": null}}}
      ]
     },
     {
      "width": 332, "height": 385,
      "title": {"text": "HH combo", "offset": 16},
      "transform": [{"filter": "datum.row == 'B' && datum.panel == 'HH combo'"}],
      "encoding": {"x": {"field": "x", "type": "quantitative", "scale": {"domain": [0, 25.25], "nice": false, "zero": false}, "axis": {"values": [0,5,10,15,20], "title": null}}},
      "resolve": {"axis": {"y": "independent"}},
      "layer": [
       {"transform": [{"filter": "isValid(datum.lo)"}, {"calculate": "datum.series + ' band'", "as": "band"}],
        "mark": {"type": "area", "interpolate": "monotone", "opacity": 0.6},
        "encoding": {
         "y": {"field": "lo", "type": "quantitative", "scale": {"domain": [500, 5246], "nice": false, "zero": false}, "axis": {"orient": "right", "labels": false, "ticks": false, "title": null}},
         "y2": {"field": "hi"},
         "fill": {"field": "band", "type": "nominal", "scale": {"domain": ["Control band","TiO₂ PVP aged band","TiO₂ PVP pristine band","TiO₂ Uncoated aged band","TiO₂ Uncoated pristine band"], "range": ["#a58af2","#f48fd0","#f48fd0","#95ef78","#86ec62"]}, "legend": null}}},
       {"mark": {"type": "line", "interpolate": "monotone", "strokeWidth": 1.8},
        "encoding": {
         "y": {"field": "y", "type": "quantitative", "scale": {"domain": [500, 5246], "nice": false, "zero": false}, "axis": {"labels": false, "ticks": false, "title": null}},
         "color": {"field": "series", "type": "nominal", "scale": {"domain": ["Control","TiO₂ PVP aged","TiO₂ PVP pristine","TiO₂ Uncoated aged","TiO₂ Uncoated pristine"], "range": ["#4a6cd6","#e2558a","#b3123e","#86d65a","#33a63a"]}, "legend": null},
         "strokeDash": {"field": "series", "type": "nominal", "scale": {"domain": ["Control","TiO₂ PVP aged","TiO₂ PVP pristine","TiO₂ Uncoated aged","TiO₂ Uncoated pristine"], "range": [[1,0],[3,3],[1,0],[2,3],[1,0]]}, "legend": null}}}
      ]
     },
     {
      "width": 1, "height": 385,
      "data": {"values": []},
      "mark": {"type": "line"},
      "encoding": {
       "color": {"field": "series", "type": "nominal", "scale": {"domain": ["Control","TiO₂ PVP aged","TiO₂ PVP pristine","TiO₂ Uncoated aged","TiO₂ Uncoated pristine"], "range": ["#4a6cd6","#e2558a","#b3123e","#86d65a","#33a63a"]}, "legend": {"title": null, "orient": "none", "legendX": 6, "legendY": -24}},
       "strokeDash": {"field": "series", "type": "nominal", "scale": {"domain": ["Control","TiO₂ PVP aged","TiO₂ PVP pristine","TiO₂ Uncoated aged","TiO₂ Uncoated pristine"], "range": [[1,0],[3,3],[1,0],[2,3],[1,0]]}, "legend": {"title": null, "orient": "none", "legendX": 6, "legendY": -24}}}
     }
    ]
   },
   {
    "title": {"text": "C", "anchor": "start", "frame": "bounds", "offset": -8, "fontSize": 18, "fontWeight": "normal", "dx": -5},
    "spacing": 0,
    "bounds": "flush",
    "resolve": {"scale": {"color": "independent", "strokeDash": "independent", "fill": "independent"}},
    "hconcat": [
     {"width": 3, "height": 10, "data": {"values": []}, "mark": {"type": "point"}},
     {
      "width": 347, "height": 380,
      "title": {"text": "Class V", "offset": 13},
      "transform": [{"filter": "datum.row == 'C' && datum.panel == 'Class V'"}],
      "encoding": {"x": {"field": "x", "type": "quantitative", "scale": {"domain": [0, 5.09], "nice": false, "zero": false}, "axis": {"values": [0,1,2,3,4,5], "title": "Brood Number", "titleX": 342, "titlePadding": 5}}},
      "layer": [
       {"transform": [{"filter": "isValid(datum.lo)"}, {"calculate": "datum.series + ' band'", "as": "band"}],
        "mark": {"type": "area", "interpolate": "monotone", "opacity": 0.6},
        "encoding": {
         "y": {"field": "lo", "type": "quantitative", "scale": {"domain": [0, 41.6], "nice": false}, "axis": {"values": [0,5,10,15,20,25,30,35,40], "title": "Cumulative total neonates", "titlePadding": 12}},
         "y2": {"field": "hi"},
         "fill": {"field": "band", "type": "nominal", "scale": {"domain": ["Control band","TiO₂ PVP aged band","TiO₂ PVP pristine band","TiO₂ Uncoated aged band","TiO₂ Uncoated pristine band"], "range": ["#a58af2","#f48fd0","#f48fd0","#95ef78","#86ec62"]}, "legend": null}}},
       {"mark": {"type": "line", "interpolate": "monotone", "strokeWidth": 1.8},
        "encoding": {
         "y": {"field": "y", "type": "quantitative", "scale": {"domain": [0, 41.6], "nice": false}, "axis": {"values": [0,5,10,15,20,25,30,35,40], "title": "Cumulative total neonates", "titlePadding": 12}},
         "color": {"field": "series", "type": "nominal", "scale": {"domain": ["Control","TiO₂ PVP aged","TiO₂ PVP pristine","TiO₂ Uncoated aged","TiO₂ Uncoated pristine"], "range": ["#4a6cd6","#e2558a","#b3123e","#86d65a","#33a63a"]}, "legend": null},
         "strokeDash": {"field": "series", "type": "nominal", "scale": {"domain": ["Control","TiO₂ PVP aged","TiO₂ PVP pristine","TiO₂ Uncoated aged","TiO₂ Uncoated pristine"], "range": [[1,0],[3,3],[1,0],[2,3],[1,0]]}, "legend": null}}}
      ]
     },
     {
      "width": 339, "height": 380,
      "title": {"text": "HH combo", "offset": 13},
      "transform": [{"filter": "datum.row == 'C' && datum.panel == 'HH combo'"}],
      "encoding": {"x": {"field": "x", "type": "quantitative", "scale": {"domain": [0, 5.15], "nice": false, "zero": false}, "axis": {"values": [0,1,2,3,4,5], "title": null}}},
      "resolve": {"axis": {"y": "independent"}},
      "layer": [
       {"transform": [{"filter": "isValid(datum.lo)"}, {"calculate": "datum.series + ' band'", "as": "band"}],
        "mark": {"type": "area", "interpolate": "monotone", "opacity": 0.6},
        "encoding": {
         "y": {"field": "lo", "type": "quantitative", "scale": {"domain": [0, 41.6], "nice": false}, "axis": {"orient": "right", "labels": false, "ticks": false, "title": null}},
         "y2": {"field": "hi"},
         "fill": {"field": "band", "type": "nominal", "scale": {"domain": ["Control band","TiO₂ PVP aged band","TiO₂ PVP pristine band","TiO₂ Uncoated aged band","TiO₂ Uncoated pristine band"], "range": ["#a58af2","#f48fd0","#f48fd0","#95ef78","#86ec62"]}, "legend": null}}},
       {"mark": {"type": "line", "interpolate": "monotone", "strokeWidth": 1.8},
        "encoding": {
         "y": {"field": "y", "type": "quantitative", "scale": {"domain": [0, 41.6], "nice": false}, "axis": {"labels": false, "ticks": false, "title": null}},
         "color": {"field": "series", "type": "nominal", "scale": {"domain": ["Control","TiO₂ PVP aged","TiO₂ PVP pristine","TiO₂ Uncoated aged","TiO₂ Uncoated pristine"], "range": ["#4a6cd6","#e2558a","#b3123e","#86d65a","#33a63a"]}, "legend": null},
         "strokeDash": {"field": "series", "type": "nominal", "scale": {"domain": ["Control","TiO₂ PVP aged","TiO₂ PVP pristine","TiO₂ Uncoated aged","TiO₂ Uncoated pristine"], "range": [[1,0],[3,3],[1,0],[2,3],[1,0]]}, "legend": null}}}
      ]
     },
     {
      "width": 1, "height": 380,
      "data": {"values": []},
      "mark": {"type": "line"},
      "encoding": {
       "color": {"field": "series", "type": "nominal", "scale": {"domain": ["Control","TiO₂ PVP aged","TiO₂ PVP pristine","TiO₂ Uncoated aged","TiO₂ Uncoated pristine"], "range": ["#4a6cd6","#e2558a","#b3123e","#86d65a","#33a63a"]}, "legend": {"title": null, "orient": "none", "legendX": 5, "legendY": -17}},
       "strokeDash": {"field": "series", "type": "nominal", "scale": {"domain": ["Control","TiO₂ PVP aged","TiO₂ PVP pristine","TiO₂ Uncoated aged","TiO₂ Uncoated pristine"], "range": [[1,0],[3,3],[1,0],[2,3],[1,0]]}, "legend": {"title": null, "orient": "none", "legendX": 5, "legendY": -17}}}
     }
    ]
   }
  ]
 }
],
"columns": 1,
"align": "none",
"spacing": 32,
"resolve": {"scale": {"color": "independent", "strokeDash": "independent", "fill": "independent"}}
}
